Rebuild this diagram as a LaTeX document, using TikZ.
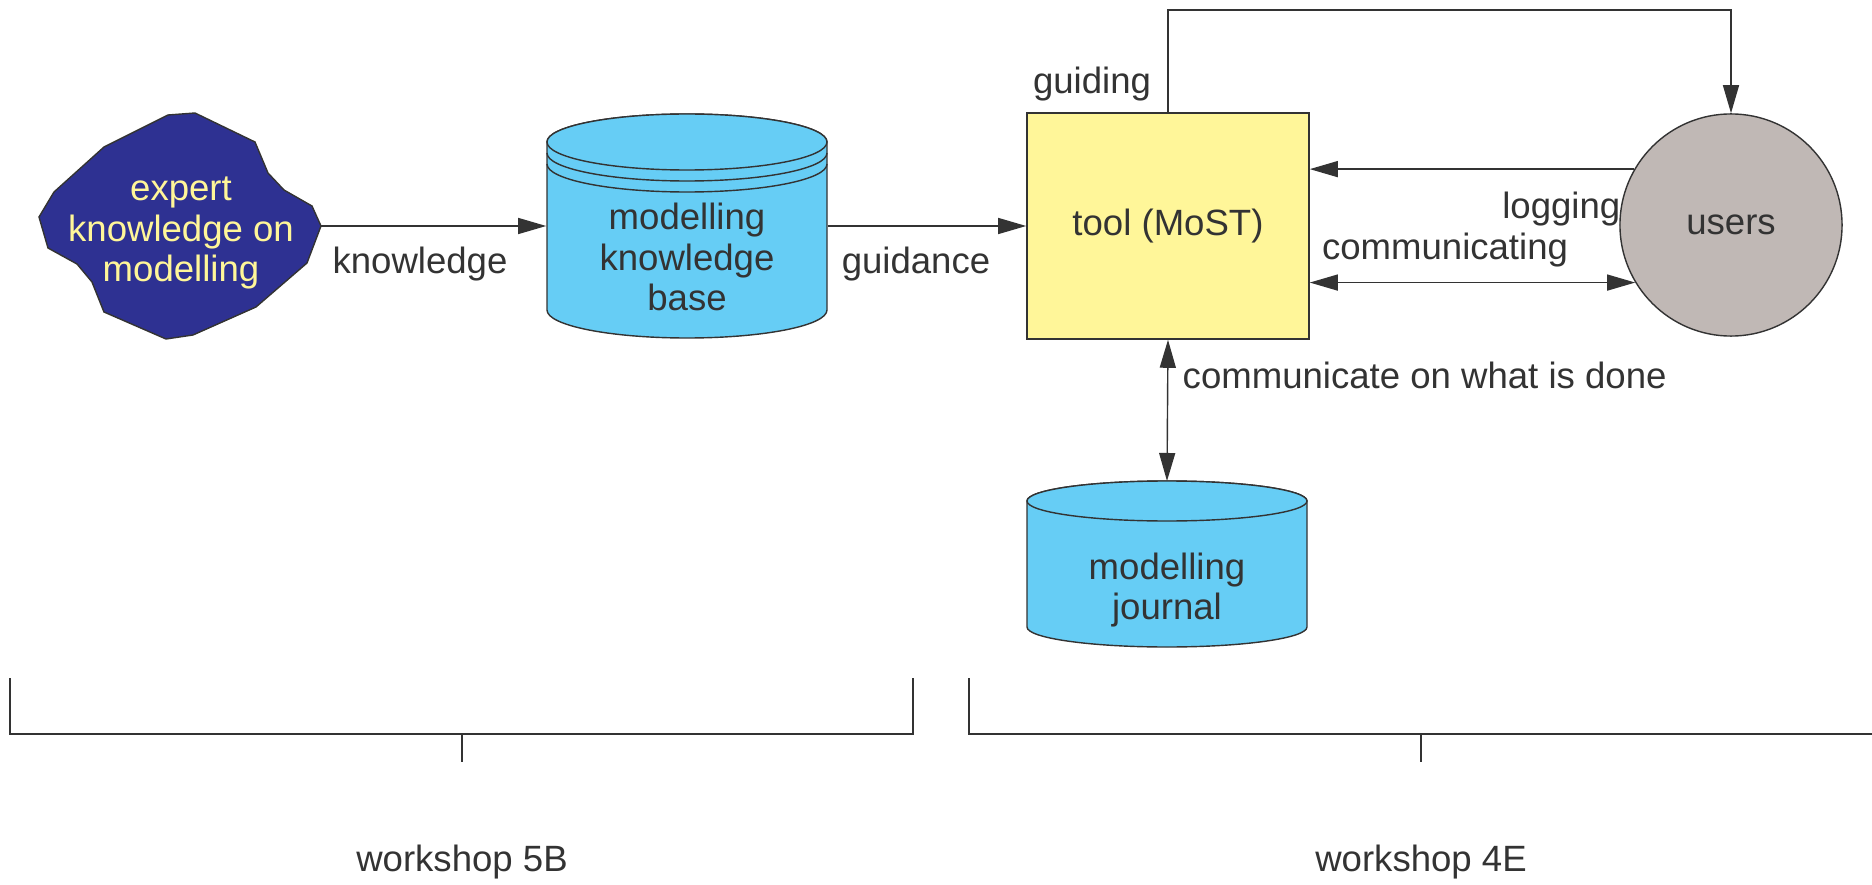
\documentclass[tikz,border=0pt]{standalone}
\usepackage{fontspec}
\setmainfont{Liberation Sans}
\usetikzlibrary{arrows.meta}

\definecolor{inkgray}{HTML}{333333}
\definecolor{skyblue}{HTML}{66CDF5}
\definecolor{navyblob}{HTML}{2E3192}
\definecolor{paleyellow}{HTML}{FFF699}
\definecolor{usergray}{HTML}{C0B8B5}

\begin{document}
\begin{tikzpicture}[x=0.01cm, y=-0.01cm, line width=0.4pt,
		font=\fontsize{10.4}{11.4}\selectfont,
		txt/.style={text=inkgray, align=center, inner sep=0pt},
		link/.style={draw=inkgray, -{Triangle[length=0.28cm, width=0.16cm]}},
		twoway/.style={draw=inkgray, {Triangle[length=0.28cm, width=0.16cm]}-{Triangle[length=0.28cm, width=0.16cm]}},
		store/.style={draw=inkgray, fill=skyblue},
		bracket/.style={draw=inkgray}]
		\useasboundingbox (0,0) rectangle (1872,885);

		% expert knowledge blob
		\draw[draw=inkgray, fill=navyblob] (168,115) -- (195,113) -- (255,142) -- (268,173) -- (284,190) -- (312,206) -- (321,226) -- (307,263) -- (256,307) -- (193,335) -- (166,339) -- (104,312) -- (92,282) -- (77,264) -- (48,248) -- (39,217) -- (54,192) -- (104,147) -- cycle;
		\coordinate (blob tip) at (321,226);
		\node[txt, text=paleyellow] (expert) at (181,233) {expert\\knowledge on\\modelling};

		% knowledge base cylinder
		\draw[store] (547,142) -- (547,310) arc (180:0:140 and 28) -- (827,142) arc (0:-180:140 and 28) -- cycle;
		\draw[store] (687,142) ellipse (140 and 28);
		\draw[inkgray] (547,153) arc (180:0:140 and 28);
		\draw[inkgray] (547,164) arc (180:0:140 and 28);
		\node[txt, minimum width=2.8cm] (kb) at (687,257) {modelling\\knowledge\\base};

		\node[draw=inkgray, fill=paleyellow, text=inkgray, minimum width=2.82cm, minimum height=2.26cm, inner sep=0pt] (tool) at (1168,226) {tool (MoST)};
		\node[circle, draw=inkgray, fill=usergray, text=inkgray, minimum size=2.22cm, inner sep=0pt] (users) at (1731,225) {users};

		% journal cylinder
		\draw[store] (1027,501) -- (1027,627) arc (180:0:140 and 20) -- (1307,501) arc (0:-180:140 and 20) -- cycle;
		\draw[store] (1167,501) ellipse (140 and 20);
		\coordinate (journal top) at (1167,481);
		\node[txt] (journal) at (1167,590) {modelling\\journal};

		% connectors
		\draw[link] (blob tip) -- (blob tip -| kb.west);
		\draw[link] (kb.east |- tool.west) -- (tool.west);
		\coordinate (loop) at (1731,10);
		\draw[link] (tool.north) |- (loop) -- (users.north);
		\draw[link] (users.150) -- (users.150 -| tool.east);
		\draw[twoway] (users.211 -| tool.east) -- (users.211);
		\draw[twoway] (tool.south) -- (journal top);

		\node[txt] (knowledge) at (420,264) {knowledge};
		\node[txt] (guidance) at (916,264) {guidance};
		\node[txt] (guiding) at (1092,84) {guiding};
		\node[txt, anchor=east] (logging) at (1621,209) {logging};
		\node[txt] (communicating) at (1445,250) {communicating};
		\node[txt, anchor=west] (done) at (1182,375) {communicate on what is done};

		% workshop brackets
		\draw[bracket] (10,678) |- (913,734) -- (913,678);
		\draw[bracket] (462,734) -- (462,762);
		\draw[bracket] (969,678) |- (1872,734);
		\draw[bracket] (1421,734) -- (1421,762);
		\node[txt] (ws5b) at (462,862) {workshop 5B};
		\node[txt] (ws4e) at (1421,862) {workshop 4E};
	\end{tikzpicture}
\end{document}
